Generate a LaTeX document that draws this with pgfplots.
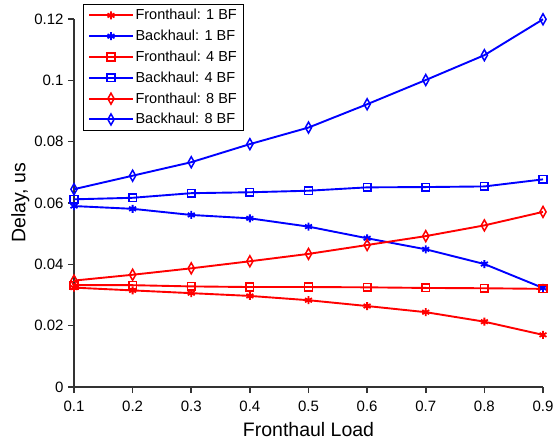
\documentclass[border=0pt]{standalone}
\usepackage{fontspec}
\setmainfont{Liberation Sans}
\usepackage{pgfplots}
\pgfplotsset{compat=1.18}
\definecolor{axgray}{HTML}{333333}
\begin{document}
\begin{tikzpicture}
\begin{axis}[
  at={(0,0)}, anchor=south west,
  scale only axis, width=469pt, height=368pt,
  xmin=0.1, xmax=0.9, ymin=0, ymax=0.12,
  axis lines*=left,
  axis line style={axgray, line width=1.8pt},
  tick align=outside,
  major tick length=6pt,
  tick style={axgray, line width=1.6pt},
  xtick={0.1,0.2,0.3,0.4,0.5,0.6,0.7,0.8,0.9},
  xticklabels={0.1,0.2,0.3,0.4,0.5,0.6,0.7,0.8,0.9},
  ytick={0,0.02,0.04,0.06,0.08,0.1,0.12},
  yticklabels={0,0.02,0.04,0.06,0.08,0.1,0.12},
  ticklabel style={font=\fontsize{15}{17}\selectfont},
  xticklabel style={yshift=-4pt},
  yticklabel style={xshift=-1pt},
  xlabel={Fronthaul Load},
  ylabel={Delay, us},
  label style={font=\fontsize{19.5}{21}\selectfont},
  xlabel style={yshift=-4pt},
  ylabel style={yshift=-2pt},
  clip=false,
  legend style={at={(rel axis cs:0.019,1.041)}, anchor=north west, draw=black, line width=1pt,
    font=\fontsize{14.5}{16}\selectfont, row sep=4.8pt, inner xsep=5pt, inner ysep=3pt,
    nodes={inner sep=2pt},
    legend image code/.code={\draw[mark repeat=2,mark phase=2] plot coordinates {(0cm,0cm) (0.76cm,0cm) (1.52cm,0cm)};}},
  legend cell align=left,
  every axis plot/.append style={line width=1.9pt},
]
\addplot[red, mark=asterisk, mark size=4pt, mark options={line width=1.8pt}] coordinates {
(0.1,0.0324) (0.2,0.0315) (0.3,0.0306) (0.4,0.0297) (0.5,0.0283) (0.6,0.0264) (0.7,0.0244) (0.8,0.0213) (0.9,0.0170)};
\addlegendentry{Fronthaul: 1 BF}
\addplot[blue, mark=asterisk, mark size=4pt, mark options={line width=1.8pt}] coordinates {
(0.1,0.0590) (0.2,0.0581) (0.3,0.0561) (0.4,0.0550) (0.5,0.0523) (0.6,0.0485) (0.7,0.0449) (0.8,0.0401) (0.9,0.0323)};
\addlegendentry{Backhaul: 1 BF}
\addplot[red, mark=square, mark size=3.8pt, mark options={line width=1.5pt}] coordinates {
(0.1,0.0332) (0.2,0.0332) (0.3,0.0328) (0.4,0.0326) (0.5,0.0326) (0.6,0.0325) (0.7,0.0323) (0.8,0.0322) (0.9,0.0320)};
\addlegendentry{Fronthaul: 4 BF}
\addplot[blue, mark=square, mark size=3.8pt, mark options={line width=1.5pt}] coordinates {
(0.1,0.0612) (0.2,0.0617) (0.3,0.0632) (0.4,0.0635) (0.5,0.0640) (0.6,0.0651) (0.7,0.0652) (0.8,0.0654) (0.9,0.0677)};
\addlegendentry{Backhaul: 4 BF}
\addplot[red, mark=diamond, mark size=5.5pt, mark options={line width=1.5pt, xscale=0.75}] coordinates {
(0.1,0.0347) (0.2,0.0366) (0.3,0.0387) (0.4,0.0410) (0.5,0.0434) (0.6,0.0463) (0.7,0.0492) (0.8,0.0527) (0.9,0.0571)};
\addlegendentry{Fronthaul: 8 BF}
\addplot[blue, mark=diamond, mark size=5.5pt, mark options={line width=1.5pt, xscale=0.75}] coordinates {
(0.1,0.0645) (0.2,0.0689) (0.3,0.0733) (0.4,0.0792) (0.5,0.0846) (0.6,0.0922) (0.7,0.1001) (0.8,0.1082) (0.9,0.1199)};
\addlegendentry{Backhaul: 8 BF}
\end{axis}
\pgfresetboundingbox
\path[use as bounding box] (-74pt,-52pt) rectangle (479pt,387pt);
\end{tikzpicture}
\end{document}
